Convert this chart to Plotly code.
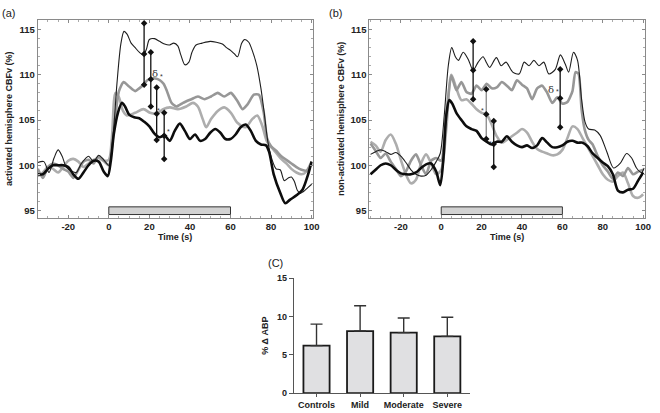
import plotly.graph_objects as go

# ---------------- Panel (a): activated hemisphere ----------------
a_thin_t = [-35, -32, -29.5, -27, -25, -23, -21, -18, -16, -13.5, -10, -7.5, -5, -2.5, 0, 2, 4, 6, 7.5, 9, 11, 13, 15, 17, 18.5, 20, 22.5, 25, 27.5, 30, 32, 34, 35.5, 37.5, 39.5, 41, 43, 46, 50, 53, 56, 58, 60, 62, 63.5, 65.5, 67, 69, 71, 73, 75, 76.5, 78.5, 80.5, 82.5, 84.5, 86.5, 88.5, 90, 91.5, 93, 94.5, 96, 98, 100]
a_thin_v = [100.3, 100.4, 99.2, 100.8, 101.7, 101.0, 99.8, 99.3, 99.2, 100.2, 101.0, 100.4, 101.1, 100.6, 100.0, 103, 109, 113.5, 114.8, 114.5, 113.5, 113.0, 112.5, 112.2, 112.8, 113.9, 114.0, 113.7, 113.4, 113.3, 113.5, 113.2, 112.2, 111.1, 111.4, 112.5, 113.3, 113.5, 113.7, 113.6, 113.4, 113.0, 112.7, 112.3, 112.0, 113.5, 113.9, 113.6, 112.5, 111.0, 108.5, 106.0, 102.5, 100.6, 99.6, 99.5, 98.3, 98.6, 98.7, 98.2, 97.2, 96.9, 97.1, 97.5, 97.9]

a_mark_t = [-35, -32.5, -30, -27.5, -25, -22.5, -20, -17.5, -15, -12.5, -10, -7.5, -5, -2.5, 0, 2.5, 5, 7.3, 10, 13, 15, 17, 19, 21.1, 23, 25.2, 27, 28.5, 30.9, 33.3, 36.6, 40.7, 43.9, 47.2, 50.4, 53.7, 56.9, 60.2, 63.4, 65.9, 68.3, 71.5, 74, 76.4, 78, 80, 82.5, 85, 87.5, 90, 92.5, 95, 97.5, 100]
a_mark_v = [99.6, 98.6, 99.8, 100.2, 100.0, 99.6, 99.3, 98.6, 99.5, 100.4, 100.6, 100.2, 101.0, 100.5, 100.0, 104.0, 108.2, 109.2, 108.7, 108.2, 108.5, 108.9, 109.4, 109.6, 109.6, 109.4, 109.0, 108.3, 106.9, 106.5, 106.9, 107.3, 107.6, 107.3, 107.6, 108.0, 107.6, 108.0, 107.1, 106.2, 106.7, 107.8, 107.8, 105.8, 103.0, 102.1, 101.6, 101.0, 100.6, 100.2, 99.8, 99.5, 99.4, 100.4]

a_light_t = [-35, -32.5, -30, -27.5, -25, -22.5, -20, -17.5, -15, -12.5, -10, -7.5, -5, -2.5, 0, 1.5, 3.3, 5, 7, 8.9, 13, 17.1, 20.3, 23.6, 26.8, 30.1, 34.1, 38.2, 41.5, 43.9, 46.3, 48, 50.4, 53.7, 56.9, 60.2, 63.4, 67.5, 70.7, 73.2, 75.6, 78, 81.3, 84.6, 87.5, 90, 92.5, 95, 97.5, 100]
a_light_v = [98.8, 99.2, 99.8, 99.6, 99.2, 99.8, 100.5, 100.7, 100.4, 99.8, 100.2, 100.6, 100.8, 100.5, 100.6, 103.0, 108.0, 107.5, 106.0, 105.5, 105.8, 106.2, 105.8, 105.7, 106.2, 106.4, 106.2, 106.5, 106.9, 106.5, 105.1, 104.2, 105.1, 106.0, 106.4, 105.8, 104.7, 104.2, 105.1, 105.5, 104.4, 102.6, 101.7, 100.8, 100.2, 99.6, 99.2, 99.0, 99.3, 100.2]

a_thick_t = [-35, -32.5, -30, -27.5, -25, -22.5, -20, -17.5, -15, -12.5, -10, -7.5, -5, -2.5, -0.5, 1, 2.5, 4.5, 6.5, 8, 10, 12.5, 15, 17.5, 20, 22.5, 25, 27.5, 30, 32.5, 35, 37.5, 40, 42.5, 45, 47.5, 50, 52.5, 55, 57.5, 60, 62.5, 65, 67.5, 70, 72.5, 75, 77.5, 79, 81.3, 84.6, 87, 89.4, 92.7, 95.5, 98, 100]
a_thick_v = [99.0, 99.0, 99.6, 100.0, 100.0, 100.0, 99.8, 99.0, 98.5, 99.2, 100.0, 100.5, 100.4, 99.3, 98.8, 100.5, 103.5, 105.8, 106.9, 106.5, 105.6, 105.3, 105.2, 104.8, 104.3, 103.5, 103.1, 103.3, 102.7, 103.8, 104.6, 103.8, 102.9, 103.4, 102.7, 102.9, 103.6, 104.0, 103.6, 102.9, 102.9, 103.4, 104.2, 104.5, 103.8, 102.7, 102.3, 102.2, 101.5, 99.0, 96.9, 95.8, 96.2, 96.7, 97.3, 98.8, 100.4]

a_eb_t = [17.4, 20.7, 23.6, 27.3]
a_eb_mean = [112.3, 109.5, 105.7, 103.25]
a_eb_sd = [3.4, 3.0, 2.9, 2.55]
a_eb_color = ["#111", "#111", "#111", "#111"]

# ---------------- Panel (b): non-activated hemisphere ----------------
b_thin_t = [-35, -32.5, -30, -27.5, -25, -22.5, -20, -17.5, -15, -12.5, -10, -7.5, -5, -2.5, -0.5, 1.5, 3.5, 5.2, 7, 8.5, 10.9, 13.4, 15.8, 18.3, 20.7, 22.5, 24, 27.3, 29.7, 32.1, 35.4, 38.6, 41.1, 43.5, 45.9, 48.4, 50.8, 53.3, 56.5, 59, 61.4, 63.1, 65.5, 67.5, 69.5, 71.2, 73, 76, 78.7, 82, 85.3, 88.6, 91.8, 94.3, 96.7, 99.2, 100.5]
b_thin_v = [101.2, 101.5, 101.7, 101.5, 101.2, 101.4, 101.0, 100.3, 99.5, 99.0, 98.8, 98.9, 99.5, 100.4, 101.3, 105.5, 111.0, 113.0, 112.0, 111.6, 112.5, 111.7, 110.5, 111.4, 112.0, 111.3, 110.8, 111.9, 111.0, 111.4, 110.3, 110.1, 111.4, 111.0, 111.6, 111.0, 111.4, 110.1, 110.6, 112.2, 111.2, 110.3, 112.5, 111.6, 107.3, 104.8, 104.0, 103.9, 103.3, 101.5, 99.7, 100.2, 101.3, 100.8, 99.7, 99.2, 99.7]

b_mark_t = [-35, -32.5, -30, -27.5, -25, -22.5, -20, -17.5, -15, -12.5, -10, -7.5, -5, -2.5, 0, 2.5, 5, 7.5, 10, 12.5, 15, 17.5, 20, 22.5, 25, 27.5, 30, 32.5, 35, 37.5, 40, 42.5, 45, 47.5, 50, 52.5, 55, 57.5, 60, 62.5, 65, 66.5, 68, 69.5, 71, 73, 75, 77.5, 80, 82.5, 85, 87.5, 90, 92.5, 95, 97.5, 100]
b_mark_v = [102.4, 101.6, 100.8, 101.3, 100.4, 99.6, 98.8, 99.3, 100.5, 101.2, 100.0, 99.0, 100.5, 100.8, 100.5, 105.5, 109.9, 108.3, 109.2, 108.1, 107.9, 108.8, 108.3, 109.0, 108.5, 108.6, 109.2, 108.8, 108.3, 109.4, 108.9, 108.5, 107.3, 108.5, 108.8, 108.0, 106.9, 107.5, 106.8, 107.0, 108.2, 110.3, 110.1, 106.2, 104.0, 102.8, 102.3, 101.0, 100.0, 99.3, 98.5, 99.2, 98.8, 99.7, 99.0, 99.3, 99.5]

b_light_t = [-35, -32.5, -30, -27.5, -25, -22.5, -20, -17.5, -15, -12.5, -10, -7.5, -5, -2.5, 0, 2.5, 5, 7.5, 10, 12.5, 15, 17.5, 20, 22.5, 25, 27.5, 30, 32.5, 35, 37.5, 40, 42.5, 45, 47.5, 50, 52.5, 55, 57.5, 60, 62.5, 65, 67.5, 70, 72.5, 75, 77.5, 80, 82.5, 85, 87.5, 90, 92.5, 95, 97.5, 100]
b_light_v = [102.6, 102.2, 101.5, 102.8, 103.4, 102.4, 100.6, 99.0, 98.0, 98.4, 100.2, 101.2, 100.2, 99.0, 99.5, 104.0, 110.0, 108.5, 107.2, 107.3, 106.8, 106.2, 105.8, 105.6, 104.5, 103.2, 102.5, 102.8, 103.2, 103.6, 104.0, 103.6, 102.6, 101.8, 101.5, 101.3, 101.1, 101.2, 101.7, 103.0, 104.3, 104.0, 103.0, 102.0, 101.0, 100.0, 99.0, 98.4, 98.2, 98.8, 99.2, 98.0, 96.6, 96.4, 96.8]

b_thick_t = [-35, -32.5, -30, -27.5, -25, -22.5, -20, -17.5, -15, -12.5, -10, -7.5, -5, -2.5, -0.5, 1, 2.5, 4, 5.5, 7.5, 10, 12.5, 15, 17.5, 20, 22.5, 25, 27.5, 30, 32.5, 35, 37.5, 40, 42.5, 45, 47.5, 50, 52.5, 55, 57.5, 60, 62.5, 65, 67.5, 70, 72.5, 75, 77.5, 80, 82.5, 85, 87.5, 90, 92.5, 95, 97.5, 100]
b_thick_v = [99.0, 99.5, 100.0, 100.2, 100.0, 99.5, 99.1, 99.0, 99.0, 99.2, 99.7, 100.1, 100.2, 99.3, 97.8, 100.5, 105.5, 107.2, 106.8, 105.8, 105.0, 104.3, 104.0, 103.8, 103.0, 102.6, 102.3, 102.6, 102.6, 103.2, 102.6, 102.2, 102.0, 102.2, 101.9, 102.2, 103.0, 102.5, 102.0, 102.0, 102.2, 102.6, 102.7, 102.5, 102.5, 102.1, 101.3, 100.8, 100.3, 99.9, 99.0, 97.2, 97.0, 97.3, 97.4, 98.3, 99.2]

b_eb_t = [15.8, 22.3, 26.0, 58.9]
b_eb_mean = [110.5, 105.65, 102.35, 107.4]
b_eb_sd = [3.2, 2.75, 2.55, 3.2]
b_eb_color = ["#111", "#888", "#111", "#111"]

stim_window = [0, 60]
stim_level = [94.55, 95.4]

time_ticks = [-20, 0, 20, 40, 60, 80, 100]
time_tick_labels = ["-20", "0", "20", "40", "60", "80", "100"]
cbf_ticks = [95, 100, 105, 110, 115]

# ---------------- Panel (C): % change ABP ----------------
groups = ["Controls", "Mild", "Moderate", "Severe"]
abp_mean = [6.2, 8.1, 7.9, 7.4]
abp_sd = [2.8, 3.3, 1.9, 2.5]
abp_ticks = [0, 5, 10, 15]

THIN = "#1e1e1e"
THICK = "#0d0d0d"
MARK = "#979797"
LIGHT = "#adadad"

fig = go.Figure()


def add_panel(xa, ya, thin, mark, light, thick, eb):
    common = dict(xaxis=xa, yaxis=ya, mode="lines", showlegend=False, hoverinfo="skip",
                  line_shape="spline")
    fig.add_trace(go.Scatter(x=light[0], y=light[1], line=dict(color=LIGHT, width=2.6, smoothing=0.8), **common))
    fig.add_trace(go.Scatter(x=mark[0], y=mark[1], line=dict(color=MARK, width=2.6, smoothing=0.6), **common))
    fig.add_trace(go.Scatter(x=thin[0], y=thin[1], line=dict(color=THIN, width=1.1, smoothing=0.8), **common))
    fig.add_trace(go.Scatter(x=thick[0], y=thick[1], line=dict(color=THICK, width=2.6, smoothing=0.8), **common))
    ts, ms, ss, cs = eb
    for t, m, s, c in zip(ts, ms, ss, cs):
        fig.add_trace(go.Scatter(x=[t, t, t], y=[m - s, m, m + s], xaxis=xa, yaxis=ya, mode="lines+markers",
                                 line=dict(color=c, width=1.3),
                                 marker=dict(symbol="diamond", size=5, color="#111"),
                                 showlegend=False, hoverinfo="skip"))


add_panel("x", "y", (a_thin_t, a_thin_v), (a_mark_t, a_mark_v), (a_light_t, a_light_v),
          (a_thick_t, a_thick_v), (a_eb_t, a_eb_mean, a_eb_sd, a_eb_color))
add_panel("x2", "y2", (b_thin_t, b_thin_v), (b_mark_t, b_mark_v), (b_light_t, b_light_v),
          (b_thick_t, b_thick_v), (b_eb_t, b_eb_mean, b_eb_sd, b_eb_color))

fig.add_trace(go.Bar(x=groups, y=abp_mean, xaxis="x3", yaxis="y3", showlegend=False,
                     marker=dict(color="#e0e0e2", line=dict(color="#1a1a1a", width=1.8)),
                     error_y=dict(type="data", symmetric=False, array=abp_sd, arrayminus=[0] * 4,
                                  color="#333", thickness=1.4, width=6),
                     hoverinfo="skip"))

for xr, yr in (("x", "y"), ("x2", "y2")):
    fig.add_shape(type="rect", xref=xr, yref=yr, x0=stim_window[0], x1=stim_window[1],
                  y0=stim_level[0], y1=stim_level[1], fillcolor="#d2d2d2",
                  line=dict(color="#333", width=1))

tickfont = dict(family="Liberation Sans", size=9.5, color="#222", weight="bold")
titlefont = dict(family="Liberation Sans", size=9, color="#222", weight="bold")
ax_common = dict(showline=True, linecolor="#8a8a8a", linewidth=1, mirror="ticks", ticks="inside",
                 ticklen=3, tickcolor="#8a8a8a", showgrid=False, zeroline=False, tickfont=tickfont,
                 ticklabeloverflow="allow",
                 minor=dict(ticks="inside", ticklen=2, tickcolor="#aaa"))
xt = dict(tickvals=time_ticks, ticktext=time_tick_labels, minor_dtick=5,
          title=dict(text="Time (s)", font=titlefont, standoff=2))
yt = dict(tickvals=cbf_ticks, range=[94.2, 116.1], minor_dtick=1)

fig.update_layout(
    width=660, height=413, margin=dict(l=0, r=0, t=0, b=0),
    paper_bgcolor="white", plot_bgcolor="white",
    xaxis=dict(domain=[0.0576, 0.4788], range=[-35.1, 100.5], anchor="y", **ax_common, **xt),
    yaxis=dict(domain=[0.4722, 0.9637], anchor="x", **ax_common, **yt,
               title=dict(text="activated hemisphere CBFv (%)", font=titlefont, standoff=4)),
    xaxis2=dict(domain=[0.5656, 0.9874], range=[-35.6, 100.8], anchor="y2", **ax_common, **xt),
    yaxis2=dict(domain=[0.4722, 0.9637], anchor="x2", **ax_common, **yt,
                title=dict(text="non-activated hemisphere CBFv (%)", font=titlefont, standoff=4)),
    xaxis3=dict(domain=[0.45, 0.7197], anchor="y3", range=[-0.52, 3.52], showline=True, linecolor="#555",
                linewidth=1.2, ticks="outside", ticklen=3, tickcolor="#555", showgrid=False,
                ticklabeloverflow="allow",
                tickfont=dict(family="Liberation Sans", size=9, color="#222", weight="bold")),
    yaxis3=dict(domain=[0.037, 0.322], anchor="x3", range=[0, 15], tickvals=abp_ticks, showline=True,
                linecolor="#555", linewidth=1.2, ticks="outside", ticklen=4, tickcolor="#555", showgrid=False,
                zeroline=False, tickfont=dict(family="Liberation Sans", size=9, color="#222", weight="bold"),
                title=dict(text="% Δ ABP", font=titlefont, standoff=6)),
    bargap=0.4,
)

# panel labels
lab = dict(family="Liberation Sans", size=11, color="#222")
fig.add_annotation(text="(a)", x=0.0, y=1.0, xref="paper", yref="paper", xanchor="left", yanchor="top",
                   showarrow=False, font=lab)
fig.add_annotation(text="(b)", x=330 / 660, y=1.0, xref="paper", yref="paper", xanchor="left", yanchor="top",
                   showarrow=False, font=lab)
fig.add_annotation(text="(C)", x=269 / 660, y=1 - 256 / 413, xref="paper", yref="paper", xanchor="left",
                   yanchor="top", showarrow=False, font=lab)

# significance marks
sig_a = [("δ", 22.8, 110.1), ("*", 26.0, 109.8), ("*", 24.4, 106.1), ("*", 29.3, 103.7)]
sig_b = [("δ", 54.3, 108.4), ("*", 57.5, 108.1), ("*", 20.2, 106.0), ("*", 24.4, 102.4)]
for xr, yr, marks in (("x", "y", sig_a), ("x2", "y2", sig_b)):
    for txt, tx, ty in marks:
        fig.add_annotation(text=txt, x=tx, y=ty, xref=xr, yref=yr, showarrow=False,
                           font=dict(family="DejaVu Serif" if txt == "δ" else "Liberation Sans",
                                     size=10 if txt == "δ" else 7, color="#333"))

fig.write_html("out.html", config={"displayModeBar": False},
               post_script="document.body.style.margin='0';")
